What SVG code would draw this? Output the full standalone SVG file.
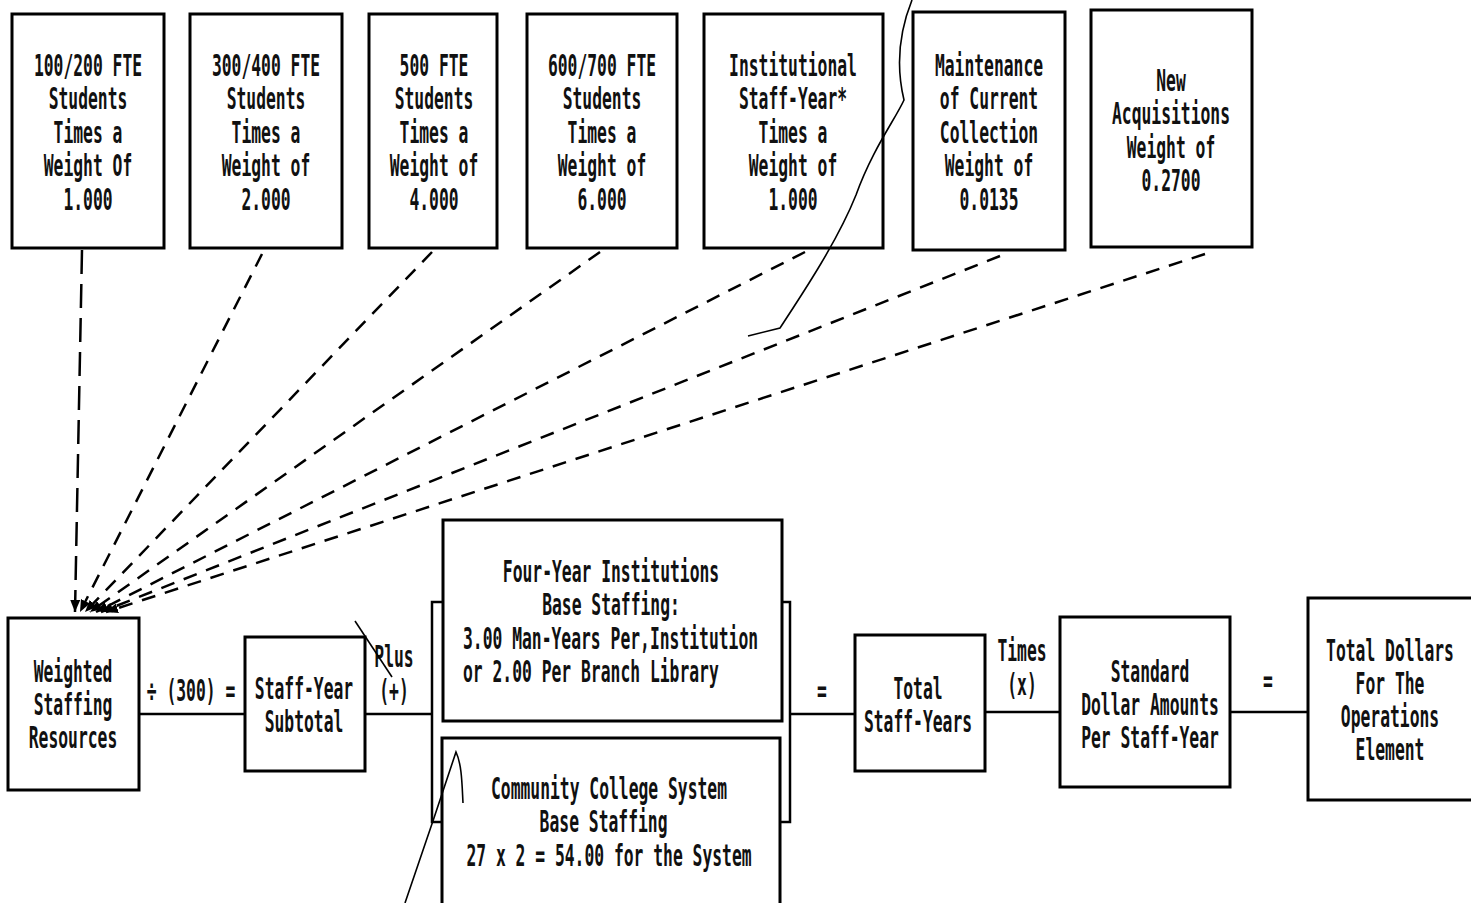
<svg xmlns="http://www.w3.org/2000/svg" width="1471" height="903" viewBox="0 0 1471 903">
<style>
.box{fill:#fff;stroke:#000;stroke-width:3}
.brk{fill:none;stroke:#000;stroke-width:2.5}
.t{font-family:"DejaVu Sans Mono","Liberation Mono",monospace;font-size:30px;font-weight:bold;fill:#111}
.dash{fill:none;stroke:#000;stroke-width:2.5;stroke-dasharray:14 10;marker-end:url(#ah)}
.solid{fill:none;stroke:#000;stroke-width:2.5}
.art{fill:none;stroke:#000;stroke-width:1.6}
</style>
<defs>
<marker id="ah" markerUnits="userSpaceOnUse" markerWidth="14" markerHeight="10" refX="12" refY="5" orient="auto">
<path d="M0,0 L12,5 L0,10 z" fill="#000"/>
</marker>
</defs>
<rect width="1471" height="903" fill="#fff"/>

<g id="connectors">
<path class="dash" style="stroke-dasharray:24 10" d="M82,250 L75,612"/>
<path class="dash" d="M262,254 L80,612"/>
<path class="dash" d="M432,252 L85,612"/>
<path class="dash" d="M600,252 L90,612"/>
<path class="dash" d="M805,252 L96,612"/>
<path class="dash" d="M1000,256 L101,612"/>
<path class="dash" d="M1205,254 L106,612"/>
<path class="solid" d="M139,714 L245,714"/>
<path class="solid" d="M365,714 L432,714"/>
<path class="solid" d="M790,714 L855,714"/>
<path class="solid" d="M985,712 L1060,712"/>
<path class="solid" d="M1230,712 L1308,712"/>
</g>

<g id="n1"><rect class="box" x="12" y="14" width="152" height="234"/>
<text class="t" text-anchor="middle" transform="translate(88,76) scale(0.545,1)"><tspan x="0">100/200 FTE</tspan><tspan x="0" dy="33.5">Students</tspan><tspan x="0" dy="33.5">Times a</tspan><tspan x="0" dy="33.5">Weight Of</tspan><tspan x="0" dy="33.5">1.000</tspan></text></g>

<g id="n2"><rect class="box" x="190" y="14" width="152" height="234"/>
<text class="t" text-anchor="middle" transform="translate(266,76) scale(0.545,1)"><tspan x="0">300/400 FTE</tspan><tspan x="0" dy="33.5">Students</tspan><tspan x="0" dy="33.5">Times a</tspan><tspan x="0" dy="33.5">Weight of</tspan><tspan x="0" dy="33.5">2.000</tspan></text></g>

<g id="n3"><rect class="box" x="369" y="14" width="128" height="234"/>
<text class="t" text-anchor="middle" transform="translate(434,76) scale(0.545,1)"><tspan x="0">500 FTE</tspan><tspan x="0" dy="33.5">Students</tspan><tspan x="0" dy="33.5">Times a</tspan><tspan x="0" dy="33.5">Weight of</tspan><tspan x="0" dy="33.5">4.000</tspan></text></g>

<g id="n4"><rect class="box" x="527" y="14" width="150" height="234"/>
<text class="t" text-anchor="middle" transform="translate(602,76) scale(0.545,1)"><tspan x="0">600/700 FTE</tspan><tspan x="0" dy="33.5">Students</tspan><tspan x="0" dy="33.5">Times a</tspan><tspan x="0" dy="33.5">Weight of</tspan><tspan x="0" dy="33.5">6.000</tspan></text></g>

<g id="n5"><rect class="box" x="704" y="14" width="179" height="234"/>
<text class="t" text-anchor="middle" transform="translate(793,76) scale(0.545,1)"><tspan x="0">Institutional</tspan><tspan x="0" dy="33.5">Staff-Year*</tspan><tspan x="0" dy="33.5">Times a</tspan><tspan x="0" dy="33.5">Weight of</tspan><tspan x="0" dy="33.5">1.000</tspan></text></g>

<g id="n6"><rect class="box" x="913" y="12" width="152" height="238"/>
<text class="t" text-anchor="middle" transform="translate(989,76) scale(0.545,1)"><tspan x="0">Maintenance</tspan><tspan x="0" dy="33.5">of Current</tspan><tspan x="0" dy="33.5">Collection</tspan><tspan x="0" dy="33.5">Weight of</tspan><tspan x="0" dy="33.5">0.0135</tspan></text></g>

<g id="n7"><rect class="box" x="1091" y="10" width="161" height="237"/>
<text class="t" text-anchor="middle" transform="translate(1171,91) scale(0.545,1)"><tspan x="0">New</tspan><tspan x="0" dy="33.5">Acquisitions</tspan><tspan x="0" dy="33.5">Weight of</tspan><tspan x="0" dy="33.5">0.2700</tspan></text></g>

<g id="weighted"><rect class="box" x="8" y="618" width="131" height="172"/>
<text class="t" text-anchor="middle" transform="translate(73,682) scale(0.545,1)"><tspan x="0">Weighted</tspan><tspan x="0" dy="33">Staffing</tspan><tspan x="0" dy="33">Resources</tspan></text></g>

<g id="subtotal"><rect class="box" x="245" y="637" width="120" height="134"/>
<text class="t" text-anchor="middle" transform="translate(304,699) scale(0.545,1)"><tspan x="0">Staff-Year</tspan><tspan x="0" dy="33">Subtotal</tspan></text></g>

<g id="base">
<rect class="brk" x="432" y="602" width="358" height="220"/>
<g id="fouryear"><rect class="box" x="443" y="520" width="339" height="201"/>
<text class="t" text-anchor="middle" transform="translate(611,582) scale(0.545,1)"><tspan x="0">Four-Year Institutions</tspan><tspan x="0" dy="33.5">Base Staffing:</tspan></text>
<text class="t" transform="translate(463,649) scale(0.545,1)"><tspan x="0">3.00 Man-Years Per,Institution</tspan><tspan x="0" dy="33.5">or 2.00 Per Branch Library</tspan></text></g>
<g id="community"><rect class="box" x="442" y="738" width="338" height="180"/>
<text class="t" text-anchor="middle" transform="translate(609,799) scale(0.545,1)"><tspan x="0">Community College System</tspan><tspan x="-10" dy="33.5">Base Staffing</tspan><tspan x="0" dy="33.5">27 x 2 = 54.00 for the System</tspan></text></g>
</g>

<g id="totalsy"><rect class="box" x="855" y="635" width="130" height="136"/>
<text class="t" text-anchor="middle" transform="translate(918,699) scale(0.545,1)"><tspan x="0">Total</tspan><tspan x="0" dy="33">Staff-Years</tspan></text></g>

<g id="standard"><rect class="box" x="1060" y="617" width="170" height="170"/>
<text class="t" text-anchor="middle" transform="translate(1150,682) scale(0.545,1)"><tspan x="0">Standard</tspan><tspan x="0" dy="33">Dollar Amounts</tspan><tspan x="0" dy="33">Per Staff-Year</tspan></text></g>

<g id="totaldollars"><rect class="box" x="1308" y="598" width="175" height="202"/>
<text class="t" text-anchor="middle" transform="translate(1390,661) scale(0.545,1)"><tspan x="0">Total Dollars</tspan><tspan x="0" dy="33">For The</tspan><tspan x="0" dy="33">Operations</tspan><tspan x="0" dy="33">Element</tspan></text></g>

<g id="labels">
<text class="t" text-anchor="middle" transform="translate(191,701) scale(0.545,1)">÷ (300) =</text>
<text class="t" text-anchor="middle" transform="translate(394,667) scale(0.545,1)"><tspan x="0">Plus</tspan><tspan x="0" dy="34">(+)</tspan></text>
<text class="t" text-anchor="middle" transform="translate(822,701) scale(0.545,1)">=</text>
<text class="t" text-anchor="middle" transform="translate(1022,661) scale(0.545,1)"><tspan x="0">Times</tspan><tspan x="0" dy="34">(x)</tspan></text>
<text class="t" text-anchor="middle" transform="translate(1268,691) scale(0.545,1)">=</text>
</g>

<g id="marks">
<path class="art" d="M912,0 C896,40 898,75 904,100 C896,118 872,150 856,195 C838,240 805,290 780,328 L748,336"/>
<path class="art" d="M405,903 C420,860 440,800 456,752 C462,765 462,785 463,803"/>
<path class="art" d="M355,621 L392,677"/>
</g>
</svg>
